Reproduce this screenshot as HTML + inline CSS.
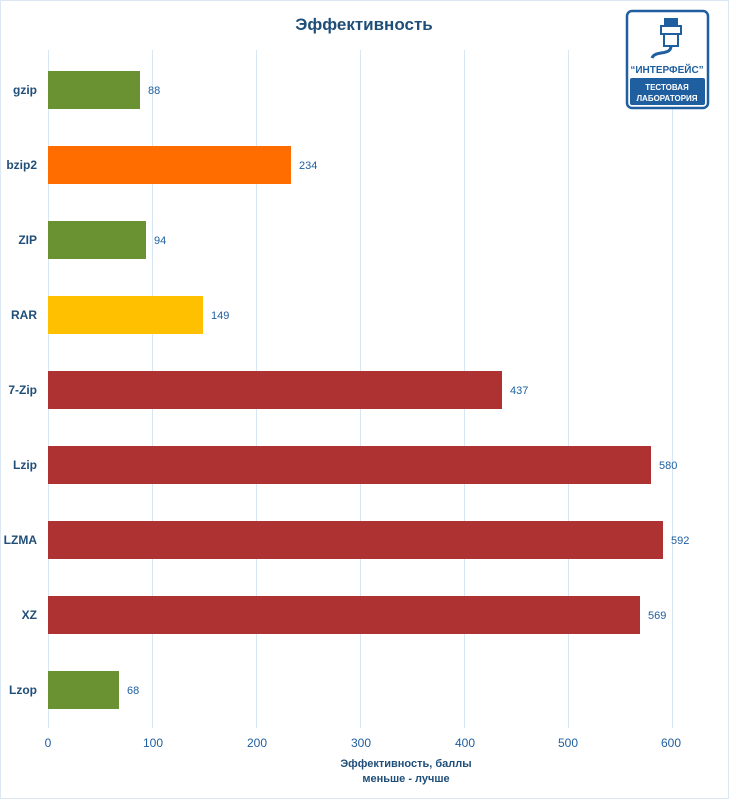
<!DOCTYPE html>
<html><head><meta charset="utf-8"><style>
body{margin:0;background:#fff}
svg{display:block;font-family:"Liberation Sans",sans-serif}
</style></head><body>
<svg width="729" height="800" viewBox="0 0 729 800">
<rect x="0.5" y="0.5" width="728" height="798" fill="#fff" stroke="#dbe8f3"/>
<text x="364" y="30" text-anchor="middle" font-size="17" font-weight="bold" fill="#1f4e79">Эффективность</text>
<g stroke="#d6e6f3" stroke-width="1">
<line x1="48.5" y1="50" x2="48.5" y2="728"/><line x1="152.5" y1="50" x2="152.5" y2="728"/><line x1="256.5" y1="50" x2="256.5" y2="728"/><line x1="360.5" y1="50" x2="360.5" y2="728"/><line x1="464.5" y1="50" x2="464.5" y2="728"/><line x1="568.5" y1="50" x2="568.5" y2="728"/><line x1="672.5" y1="50" x2="672.5" y2="728"/>
</g>
<g font-size="12" fill="#1f5fa0" text-anchor="middle">
<text x="48" y="747">0</text><text x="153" y="747">100</text><text x="257" y="747">200</text><text x="361" y="747">300</text><text x="465" y="747">400</text><text x="568" y="747">500</text><text x="671" y="747">600</text>
</g>
<text x="406" y="767" text-anchor="middle" font-size="11" font-weight="bold" fill="#1f4e79">Эффективность, баллы</text>
<text x="406" y="782" text-anchor="middle" font-size="11" font-weight="bold" fill="#1f4e79">меньше - лучше</text>
<g font-size="12" font-weight="bold" fill="#1f4e79" text-anchor="end">
<text x="37" y="94">gzip</text><text x="37" y="169">bzip2</text><text x="37" y="244">ZIP</text><text x="37" y="319">RAR</text><text x="37" y="394">7-Zip</text><text x="37" y="469">Lzip</text><text x="37" y="544">LZMA</text><text x="37" y="619">XZ</text><text x="37" y="694">Lzop</text>
</g>
<g>
<rect x="48" y="71" width="92" height="38" fill="#6a9232"/>
<rect x="48" y="146" width="243" height="38" fill="#ff6c00"/>
<rect x="48" y="221" width="98" height="38" fill="#6a9232"/>
<rect x="48" y="296" width="155" height="38" fill="#ffc000"/>
<rect x="48" y="371" width="454" height="38" fill="#ae3232"/>
<rect x="48" y="446" width="603" height="38" fill="#ae3232"/>
<rect x="48" y="521" width="615" height="38" fill="#ae3232"/>
<rect x="48" y="596" width="592" height="38" fill="#ae3232"/>
<rect x="48" y="671" width="71" height="38" fill="#6a9232"/>
</g>
<g font-size="11" fill="#1f5fa0">
<text x="148" y="94">88</text><text x="299" y="169">234</text><text x="154" y="244">94</text><text x="211" y="319">149</text><text x="510" y="394">437</text><text x="659" y="469">580</text><text x="671" y="544">592</text><text x="648" y="619">569</text><text x="127" y="694">68</text>
</g>
<g>
<rect x="627" y="11" width="81" height="97" rx="5" fill="#fff" stroke="#1f5fa0" stroke-width="2.5"/>
<rect x="664" y="18" width="14" height="8" fill="#1f5fa0"/>
<rect x="661" y="26" width="20" height="8" fill="#fff" stroke="#1f5fa0" stroke-width="2"/>
<rect x="664" y="34" width="14" height="12" fill="#fff" stroke="#1f5fa0" stroke-width="2"/>
<path d="M671 46 C671 56 655 50 652 58" stroke="#1f5fa0" stroke-width="3" fill="none"/>
<text x="667" y="73" text-anchor="middle" font-size="10" font-weight="bold" fill="#1f5fa0">“ИНТЕРФЕЙС”</text>
<rect x="630" y="78" width="75" height="27" rx="2" fill="#1f5fa0"/>
<text x="667" y="90" text-anchor="middle" font-size="8" font-weight="bold" fill="#fff">ТЕСТОВАЯ</text>
<text x="667" y="101" text-anchor="middle" font-size="8" font-weight="bold" fill="#fff">ЛАБОРАТОРИЯ</text>
</g>
</svg>
</body></html>
